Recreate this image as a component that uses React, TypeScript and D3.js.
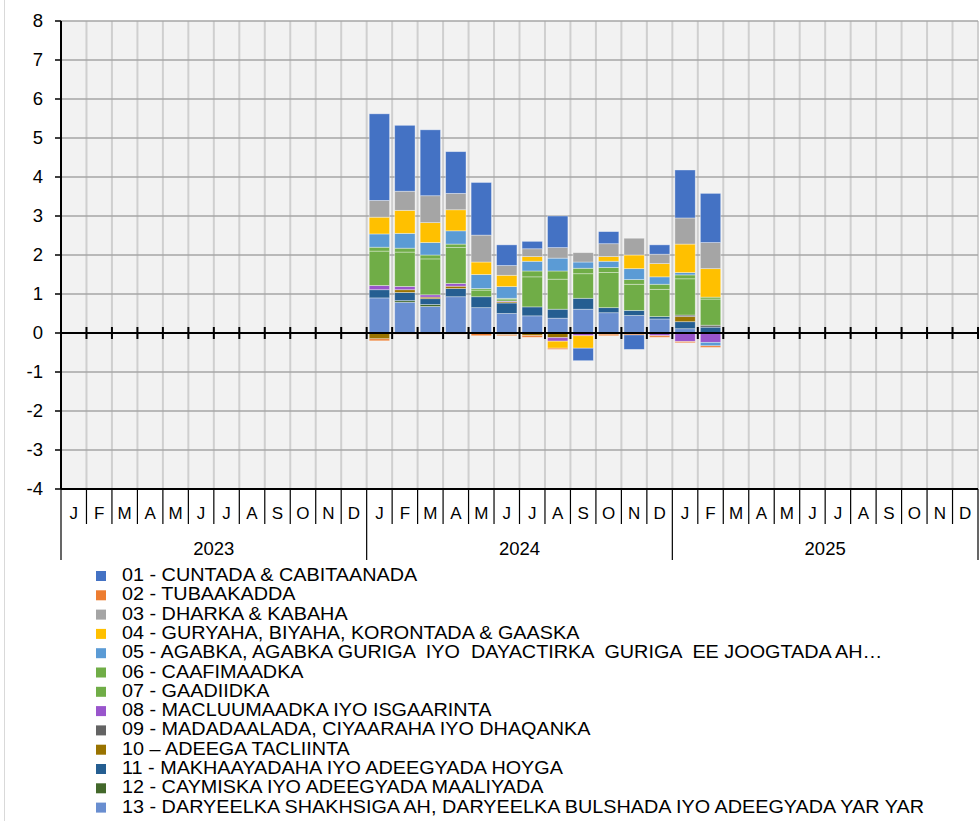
import React from "react";
import * as d3 from "d3";

// axis categories
const years = ["2023", "2024", "2025"];
const monthLetters = ["J", "F", "M", "A", "M", "J", "J", "A", "S", "O", "N", "D"];
const dataMonths = [
  "2024-01", "2024-02", "2024-03", "2024-04", "2024-05", "2024-06", "2024-07",
  "2024-08", "2024-09", "2024-10", "2024-11", "2024-12", "2025-01", "2025-02",
];

// contributions per group, Jan 2024 .. Feb 2025
const s01 = [2.22, 1.69, 1.69, 1.07, 1.35, 0.53, 0.19, 0.81, -0.32, 0.31, -0.37, 0.24, 1.23, 1.26];
const s02 = [-0.05, -0.03, -0.03, -0.03, -0.07, -0.03, -0.05, -0.03, 0, -0.04, -0.05, -0.04, -0.03, -0.04];
const s03 = [0.43, 0.49, 0.69, 0.42, 0.69, 0.25, 0.2, 0.27, 0.24, 0.33, 0.43, 0.24, 0.67, 0.67];
const s04 = [0.43, 0.59, 0.51, 0.54, 0.32, 0.29, 0.12, -0.18, -0.32, 0.12, 0.35, 0.34, 0.73, 0.73];
const s05 = [0.34, 0.38, 0.32, 0.34, 0.36, 0.3, 0.25, 0.33, 0.16, 0.16, 0.28, 0.19, 0.06, -0.09];
const s06 = [0.1, 0.1, 0.1, 0.09, 0.04, 0.02, 0.15, 0.21, 0.14, 0.13, 0.12, 0.13, 0.1, 0.05];
const s07 = [0.88, 0.88, 0.92, 0.92, 0.17, 0.05, 0.77, 0.77, 0.63, 0.9, 0.67, 0.7, 0.93, 0.67];
const s08 = [0.11, 0.085, 0.06, 0.07, 0, 0.02, 0, -0.09, -0.07, 0, 0, -0.07, -0.22, -0.24];
const s09 = [0, 0, 0, 0, 0, 0, 0, 0, 0, 0, 0, 0, 0.04, 0.05];
const s10 = [-0.15, 0.07, 0.04, 0.06, 0, 0.03, -0.06, -0.12, 0, -0.03, 0, 0, 0.13, 0];
const s11 = [0.21, 0.21, 0.15, 0.21, 0.28, 0.27, 0.23, 0.23, 0.28, 0.13, 0.13, 0.06, 0.18, 0.15];
const s12 = [0, 0.04, 0.05, 0, 0, -0.04, 0, 0, 0, 0, 0, 0, 0, 0];
const s13 = [0.9, 0.79, 0.68, 0.93, 0.65, 0.5, 0.44, 0.38, 0.61, 0.52, 0.45, 0.36, 0.11, 0];

const seriesValues = [s01, s02, s03, s04, s05, s06, s07, s08, s09, s10, s11, s12, s13];
const seriesNames = [
  "01 - CUNTADA & CABITAANADA",
  "02 - TUBAAKADDA",
  "03 - DHARKA & KABAHA",
  "04 - GURYAHA, BIYAHA, KORONTADA & GAASKA",
  "05 - AGABKA, AGABKA GURIGA  IYO  DAYACTIRKA  GURIGA  EE JOOGTADA AH…",
  "06 - CAAFIMAADKA",
  "07 - GAADIIDKA",
  "08 - MACLUUMAADKA IYO ISGAARINTA",
  "09 - MADADAALADA, CIYAARAHA IYO DHAQANKA",
  "10 – ADEEGA TACLIINTA",
  "11 - MAKHAAYADAHA IYO ADEEGYADA HOYGA",
  "12 - CAYMISKA IYO ADEEGYADA MAALIYADA",
  "13 - DARYEELKA SHAKHSIGA AH, DARYEELKA BULSHADA IYO ADEEGYADA YAR YAR",
];
const seriesColors = [
  "#4472C4", "#ED7D31", "#A5A5A5", "#FFC000", "#5B9BD5", "#70AD47", "#70AD47",
  "#9955CC", "#636363", "#997300", "#255E91", "#43682B", "#698ED0",
];

const font = "'Liberation Sans', Arial, sans-serif";

export default function App() {
  const W = 979;
  const H = 821;
  const left = 61;
  const right = 978;
  const top = 21;
  const bottom = 489;

  const allMonths = years.flatMap((y) => d3.range(1, 13).map((m) => `${y}-${String(m).padStart(2, "0")}`));

  const xCell = d3.scaleBand().domain(allMonths).range([left, right]).padding(0);
  const x = d3.scaleBand().domain(allMonths).range([left, right]).paddingInner(0.2).paddingOuter(0.1);
  const y = d3.scaleLinear().domain([-4, 8]).range([bottom, top]);

  // stack 13 at the bottom, 01 on top
  const keys = d3.range(seriesNames.length).reverse().map((i) => `s${i}`);
  const rows = dataMonths.map((m, j) => {
    const r: any = { month: m };
    seriesValues.forEach((vals, i) => (r[`s${i}`] = vals[j]));
    return r;
  });
  const stacked = d3.stack<any>().keys(keys).offset(d3.stackOffsetDiverging)(rows);

  const yTicks = d3.range(-4, 9);
  const step = xCell.step();

  return (
    <svg width={W} height={H} style={{ position: "absolute", left: 0, top: 0, background: "#fff" }} fontFamily={font}>
      <line x1={4.5} x2={4.5} y1={0} y2={H} stroke="#d9d9d9" />
      <rect x={left} y={top} width={right - left} height={bottom - top} fill="#f2f2f2" />

      {/* vertical grid */}
      {allMonths.slice(1).map((m) => (
        <line key={m} x1={xCell(m)} x2={xCell(m)} y1={top} y2={bottom} stroke="#cfcfcf" strokeWidth={2} />
      ))}
      <line x1={right} x2={right} y1={top} y2={bottom} stroke="#cfcfcf" strokeWidth={2} />
      {/* horizontal grid */}
      {yTicks.map((t) => (
        <line key={t} x1={left} x2={right} y1={y(t)} y2={y(t)} stroke="#a6a6a6" strokeWidth={1.5} />
      ))}

      {/* bars */}
      {stacked.map((layer) => {
        const idx = +layer.key.slice(1);
        return (
          <g key={layer.key} fill={seriesColors[idx]}>
            {layer.map((d: any) => {
              const h = Math.abs(y(d[0]) - y(d[1]));
              if (h < 0.01) return null;
              return (
                <rect
                  key={d.data.month}
                  x={x(d.data.month)}
                  y={y(Math.max(d[0], d[1]))}
                  width={x.bandwidth()}
                  height={h}
                  stroke="rgba(255,255,255,0.45)"
                  strokeWidth={0.8}
                />
              );
            })}
          </g>
        );
      })}

      {/* zero line with ticks */}
      <line x1={left} x2={right} y1={y(0)} y2={y(0)} stroke="#000" strokeWidth={2} />
      {allMonths.map((m) => (
        <line key={m} x1={xCell(m)} x2={xCell(m)} y1={y(0) - 6} y2={y(0) + 6} stroke="#000" strokeWidth={2} />
      ))}
      <line x1={right} x2={right} y1={y(0) - 6} y2={y(0) + 6} stroke="#000" strokeWidth={2} />

      {/* y axis */}
      <line x1={left} x2={left} y1={top} y2={bottom} stroke="#000" strokeWidth={2} />
      {yTicks.map((t) => (
        <g key={t}>
          <line x1={left - 6} x2={left} y1={y(t)} y2={y(t)} stroke="#000" strokeWidth={1.5} />
          <text x={43} y={y(t)} dy="0.35em" textAnchor="end" fontSize={18.5} fill="#000">
            {t}
          </text>
        </g>
      ))}

      {/* x axis: months and years */}
      <line x1={left} x2={right} y1={bottom} y2={bottom} stroke="#000" strokeWidth={2} />
      {allMonths.map((m, i) => (
        <g key={m}>
          <line x1={xCell(m)} x2={xCell(m)} y1={bottom} y2={i % 12 === 0 ? 560 : 524} stroke="#000" strokeWidth={1.2} />
          <text x={(xCell(m) as number) + step / 2} y={519} textAnchor="middle" fontSize={17} fill="#000">
            {monthLetters[i % 12]}
          </text>
        </g>
      ))}
      <line x1={right} x2={right} y1={bottom} y2={560} stroke="#000" strokeWidth={1.2} />
      {years.map((yr) => (
        <text key={yr} x={(xCell(`${yr}-01`) as number) + step * 6} y={555} textAnchor="middle" fontSize={18.5} fill="#000">
          {yr}
        </text>
      ))}

      {/* legend */}
      {seriesNames.map((name, i) => {
        const cy = 576 + i * 19.3;
        return (
          <g key={name}>
            <rect x={96} y={cy - 5} width={10} height={10} fill={seriesColors[i]} />
            <text
              transform={`translate(122,${cy + 5}) scale(1.06,1)`}
              fontSize={18.7}
              fill="#000"
              style={{ whiteSpace: "pre" }}
            >
              {name}
            </text>
          </g>
        );
      })}
    </svg>
  );
}
